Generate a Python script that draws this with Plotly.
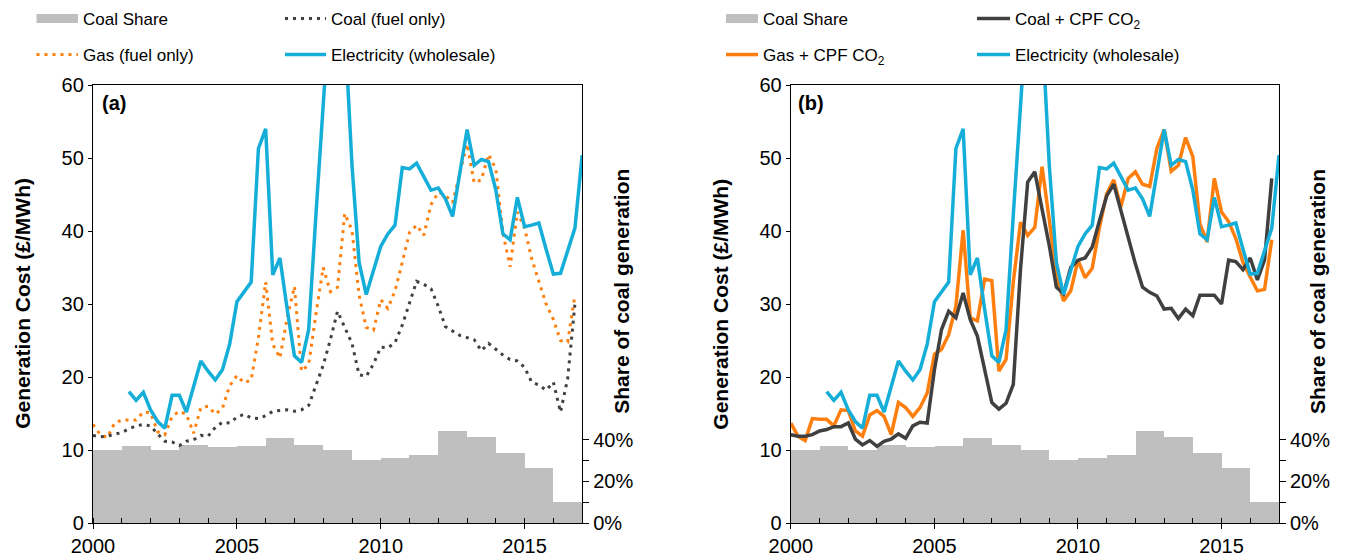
import pandas as pd
import plotly.graph_objects as go

# ---------------- data ----------------
years = list(range(2000, 2017))
coal_share_pct = [34.9, 36.8, 34.9, 37.6, 36.3, 36.8, 41.0, 37.6, 34.9,
                  30.4, 31.1, 32.9, 44.2, 41.1, 33.6, 26.5, 10.1]

# quarterly series 2000Q1 .. 2016Q4
coal_fuel = [12.0, 11.8, 11.9, 12.1, 12.4, 12.9, 13.3, 13.5,
             13.3, 12.2, 11.2, 11.1, 10.6, 11.2, 11.4, 12.0,
             11.9, 13.1, 13.8, 13.7, 14.5, 14.9, 14.4, 14.3,
             14.7, 15.3, 15.4, 15.5, 15.3, 15.5, 16.1, 18.8,
             21.6, 25.1, 29.0, 26.8, 24.6, 20.3, 20.1, 21.8,
             24.1, 24.0, 24.7, 27.1, 30.3, 33.1, 32.7, 32.1,
             29.7, 26.9, 26.3, 25.7, 25.4, 25.1, 23.6, 24.6,
             23.8, 23.0, 22.4, 22.2, 21.3, 19.3, 18.9, 18.2,
             19.3, 15.2, 19.8, 30.0]
gas_fuel = [13.5, 12.1, 11.7, 13.7, 14.1, 14.1, 14.1, 15.2,
            15.1, 12.5, 12.1, 14.6, 15.3, 14.9, 12.3, 15.8,
            16.0, 14.9, 15.7, 18.8, 20.2, 19.2, 19.6, 25.4,
            33.0, 24.5, 22.6, 28.1, 32.4, 20.8, 21.7, 28.6,
            35.0, 31.7, 32.3, 42.4, 40.1, 31.2, 26.8, 26.4,
            30.6, 29.4, 31.8, 35.7, 39.8, 40.8, 39.4, 43.6,
            45.3, 44.9, 43.9, 47.9, 51.9, 46.6, 47.0, 50.5,
            48.5, 39.7, 35.1, 42.6, 40.4, 36.2, 33.2, 30.0,
            27.9, 25.0, 24.8, 31.2]
coal_cpf = [12.1, 11.9, 11.9, 12.1, 12.6, 12.8, 13.2, 13.2,
            13.7, 11.5, 10.7, 11.3, 10.5, 11.2, 11.5, 12.2,
            11.6, 13.3, 13.8, 13.7, 21.0, 26.5, 29.0, 28.1,
            31.5, 27.9, 25.6, 20.8, 16.5, 15.6, 16.4, 19.0,
            34.8, 46.7, 48.1, 43.0, 38.0, 32.3, 31.4, 35.0,
            36.0, 36.3, 37.8, 41.4, 44.8, 46.4, 42.7, 39.0,
            35.5, 32.3, 31.6, 31.1, 29.3, 29.4, 28.0, 29.3,
            28.4, 31.2, 31.2, 31.2, 30.0, 36.0, 35.8, 34.7,
            36.3, 33.3, 36.0, 47.2]
gas_cpf = [13.7, 11.9, 11.3, 14.3, 14.2, 14.2, 13.3, 15.5,
           15.4, 12.6, 11.9, 14.8, 15.4, 14.6, 12.1, 16.5,
           15.8, 14.6, 15.8, 17.8, 23.1, 23.8, 25.8, 29.7,
           40.1, 28.1, 27.7, 33.4, 33.2, 20.8, 22.4, 33.0,
           41.2, 39.4, 40.5, 48.8, 41.5, 34.0, 30.4, 31.8,
           36.0, 33.6, 34.9, 40.5, 45.1, 47.0, 43.3, 47.2,
           48.1, 46.4, 46.1, 51.3, 53.9, 48.2, 49.0, 52.8,
           50.2, 41.0, 38.5, 47.2, 42.6, 41.3, 39.0, 35.7,
           33.7, 31.8, 32.0, 38.8]
# quarterly 2001Q2 .. 2017Q1
electricity = [18.0, 16.8, 17.9,
               15.5, 13.9, 13.0, 17.5, 17.5, 15.2, 18.7, 22.2,
               20.8, 19.6, 21.0, 24.5, 30.3, 31.7, 33.0, 51.3,
               54.0, 34.0, 36.3, 29.3, 22.9, 22.0, 26.5, 42.2,
               57.0, 72.0, 78.0, 68.0, 49.0, 35.7, 31.3, 34.7,
               37.9, 39.6, 40.8, 48.7, 48.5, 49.3, 47.4, 45.6,
               45.9, 44.4, 42.0, 47.9, 53.9, 49.0, 49.8, 49.5,
               45.6, 39.6, 38.8, 44.6, 40.6, 40.8, 41.1, 37.5,
               34.1, 34.2, 37.2, 40.4, 50.4]

share_ticks = [0, 20, 40]
share_minor_ticks = [10, 30]
cost_ticks = [0, 10, 20, 30, 40, 50, 60]

q_fuel = pd.date_range("2000-01-01", periods=len(coal_fuel), freq="QS")
q_elec = pd.date_range("2001-04-01", periods=len(electricity), freq="QS")
bar_x = pd.to_datetime([f"{y}-07-02" for y in years])
YEAR_MS = 365.25 * 24 * 3600 * 1000

# ---------------- layout geometry (page pixels; page body adds 8px offset) ----
OFF = 8
W, H = 1352 - OFF, 559 - OFF
ML = 93 - OFF
MT = 85 - OFF
MR = W - (1279.3 - OFF)
MB = H - (523.3 - OFF)
PW = W - ML - MR
PH = H - MT - MB
FONT = "Arial, Liberation Sans, sans-serif"
C_ELEC = "#14AED8"
C_GAS = "#FF7F0E"
C_COAL = "#404040"
C_BAR = "#BFBFBF"


def px_x(p):
    return (p - OFF - ML) / PW


def px_y(p):
    return (H + OFF - MB - p) / PH


dom_a = [0, px_x(582.3)]
dom_b = [px_x(791), 1]
share_max = 10 * PH / 20.83

fig = go.Figure()


def add_panel(xa, ysh, ycost, legs, coal_vals, gas_vals, coal_name, gas_name, dotted):
    fig.add_trace(go.Bar(x=bar_x, y=coal_share_pct, width=[YEAR_MS] * len(years),
                         marker=dict(color=C_BAR, line=dict(width=0)),
                         xaxis=xa, yaxis=ysh, showlegend=False, hoverinfo="skip"))
    # legend-only entry for the coal share
    fig.add_trace(go.Scatter(x=[None], y=[None], mode="lines", name="Coal Share",
                             line=dict(color=C_BAR, width=9),
                             xaxis=xa, yaxis=ycost, legend=legs[0]))
    dash = "3px,5px" if dotted else "solid"
    lw = 3 if dotted else 3.5
    fig.add_trace(go.Scatter(x=q_fuel, y=gas_vals, mode="lines", name=gas_name,
                             line=dict(color=C_GAS, width=lw, dash=dash),
                             xaxis=xa, yaxis=ycost, legend=legs[1]))
    fig.add_trace(go.Scatter(x=q_fuel, y=coal_vals, mode="lines", name=coal_name,
                             line=dict(color=C_COAL, width=lw, dash=dash),
                             xaxis=xa, yaxis=ycost, legend=legs[2]))
    fig.add_trace(go.Scatter(x=q_elec, y=electricity, mode="lines",
                             name="Electricity (wholesale)",
                             line=dict(color=C_ELEC, width=3.5),
                             xaxis=xa, yaxis=ycost, legend=legs[3]))


add_panel("x", "y", "y2", ["legend", "legend2", "legend3", "legend4"],
          coal_fuel, gas_fuel, "Coal (fuel only)", "Gas (fuel only)", True)
add_panel("x2", "y3", "y4", ["legend5", "legend6", "legend7", "legend8"],
          coal_cpf, gas_cpf, "Coal + CPF CO<sub>2</sub>", "Gas + CPF CO<sub>2</sub>", False)

tickfont = dict(family=FONT, size=20, color="black")


def xaxis_cfg(domain, anchor):
    return dict(domain=domain, anchor=anchor, type="date",
                range=["2000-01-01", "2017-01-01"],
                tick0="2000-01-01", dtick="M60", tickformat="%Y",
                ticks="outside", ticklen=5, tickcolor="black", tickwidth=1,
                minor=dict(ticks="inside", ticklen=5, dtick="M12", tickcolor="black",
                           showgrid=False),
                showline=True, linecolor="black", linewidth=1.3, mirror=True,
                showgrid=False, zeroline=False, tickfont=tickfont)


def share_cfg(anchor):
    return dict(domain=[0, 1], anchor=anchor, side="right", range=[0, share_max],
                tickmode="array", tickvals=share_ticks,
                ticktext=[f"{v}%" for v in share_ticks],
                ticks="outside", ticklen=6, tickcolor="black",
                minor=dict(tickmode="array", tickvals=share_minor_ticks,
                           ticks="outside", ticklen=6, tickcolor="black", showgrid=False),
                showline=False, showgrid=False, zeroline=False, tickfont=tickfont)


def cost_cfg(anchor, over):
    return dict(anchor=anchor, overlaying=over, side="left", range=[0, 60],
                tickmode="array", tickvals=cost_ticks, tickprefix="£",
                ticks="outside", ticklen=4, tickcolor="black",
                showline=True, linecolor="black", linewidth=1.3, mirror=True,
                showgrid=False, zeroline=False, tickfont=tickfont)


def leg(x_px, y_px, iw):
    return dict(xref="container", yref="container", x=(x_px - OFF) / W,
                y=1 - (y_px - OFF) / H,
                xanchor="left", yanchor="middle", bgcolor="rgba(0,0,0,0)",
                borderwidth=0, itemwidth=iw,
                font=dict(family=FONT, size=17, color="black"))


ROW1, ROW2 = 19, 55
fig.update_layout(
    width=W, height=H,
    margin=dict(l=ML, r=MR, t=MT, b=MB, autoexpand=False),
    paper_bgcolor="white", plot_bgcolor="white",
    barmode="overlay", bargap=0,
    showlegend=True,
    xaxis=xaxis_cfg(dom_a, "y"),
    yaxis=share_cfg("x"),
    yaxis2=cost_cfg("x", "y"),
    xaxis2=xaxis_cfg(dom_b, "y3"),
    yaxis3=share_cfg("x2"),
    yaxis4=cost_cfg("x2", "y3"),
    legend=leg(31.5, ROW1, 41.5),
    legend2=leg(31.5, ROW2, 41.5),
    legend3=leg(280, ROW1, 41),
    legend4=leg(280, ROW2, 41),
    legend5=leg(721, ROW1, 32),
    legend6=leg(721, ROW2, 32),
    legend7=leg(972, ROW1, 33),
    legend8=leg(972, ROW2, 33),
)

title_font = dict(family=FONT, size=21, color="black")
annots = [
    dict(text="<b>Generation Cost (£/MWh)</b>", x=px_x(23), y=px_y(304)),
    dict(text="<b>Generation Cost (£/MWh)</b>", x=px_x(721), y=px_y(304)),
    dict(text="<b>Share of coal generation</b>", x=px_x(621.5), y=px_y(291.5)),
    dict(text="<b>Share of coal generation</b>", x=px_x(1318), y=px_y(291.5)),
]
for a in annots:
    fig.add_annotation(xref="paper", yref="paper", textangle=-90, showarrow=False,
                       xanchor="center", yanchor="middle", font=title_font, **a)
for lbl, xp in [("(a)", 100), ("(b)", 796)]:
    fig.add_annotation(xref="paper", yref="paper", x=px_x(xp), y=px_y(90),
                       text=f"<b>{lbl}</b>", showarrow=False, xanchor="left",
                       yanchor="top", font=dict(family=FONT, size=20, color="black"))

fig.write_html("out.html")
